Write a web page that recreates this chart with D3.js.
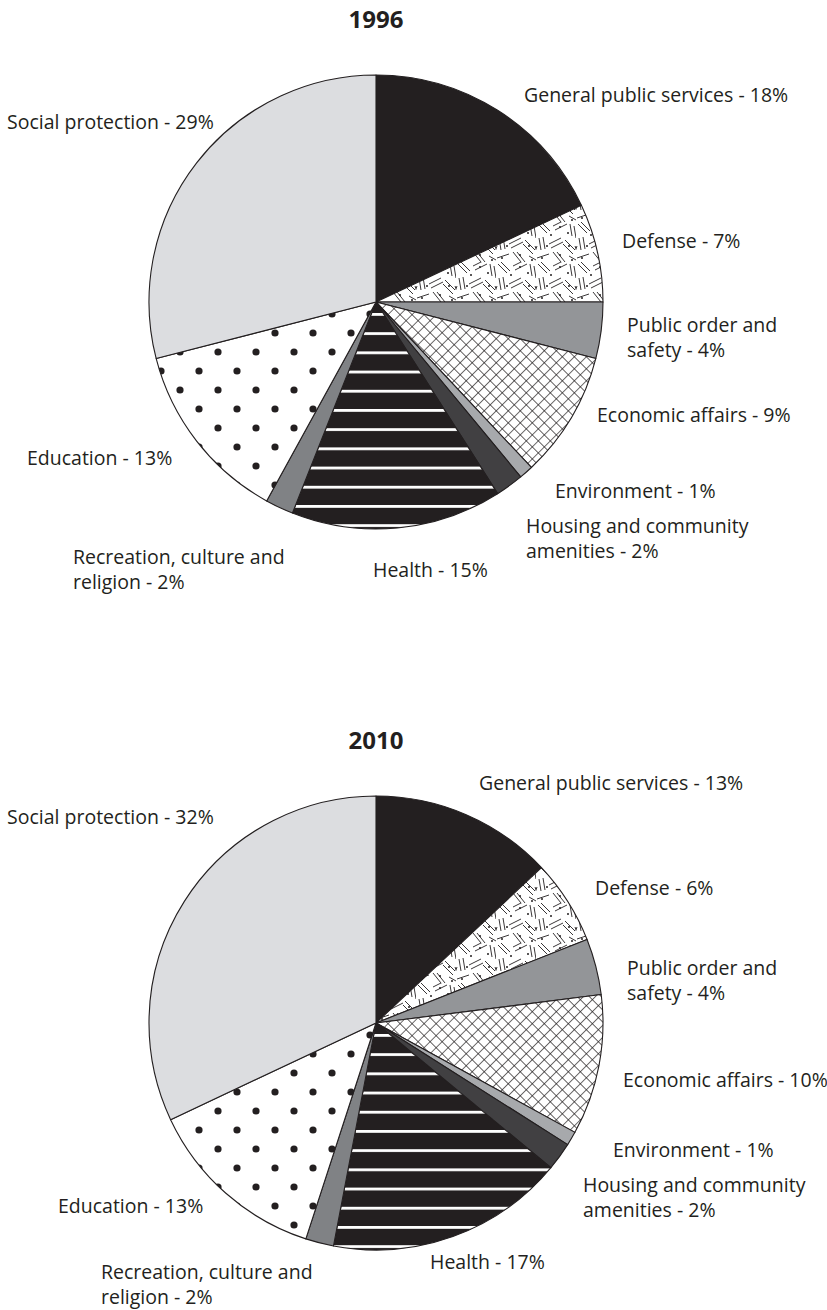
<!DOCTYPE html>
<html>
<head>
<meta charset="utf-8">
<script src="https://cdn.jsdelivr.net/npm/d3@7"></script>
<style>
  body { margin: 0; background: #fff; }
  text { font-family: "Open Sans", sans-serif; fill: #231f20; }
</style>
</head>
<body>
<div id="chart"></div>
<script>
// spending categories, clockwise from 12 o'clock
var categories = [
  ["General public services"],
  ["Defense"],
  ["Public order and", "safety"],
  ["Economic affairs"],
  ["Environment"],
  ["Housing and community", "amenities"],
  ["Health"],
  ["Recreation, culture and", "religion"],
  ["Education"],
  ["Social protection"]
];
var years = ["1996", "2010"];
var values1996 = [18, 7, 4, 9, 1, 2, 15, 2, 13, 29];
var values2010 = [13, 6, 4, 10, 1, 2, 17, 2, 13, 32];

var fills = ["#231f20", "url(#defense)", "#939598", "url(#xhatch)", "#a7a9ac",
             "#414042", "url(#stripes)", "#808285", "url(#dots)", "#dcdde0"];

// label anchors (left x, first baseline) per pie, page coords
var labelPos = [
  [[524, 102], [622, 248], [627, 332], [597, 422], [555, 498],
   [526, 533], [373, 577], [73, 564], [27, 465], [7, 129]],
  [[479, 790], [595, 895], [627, 975], [623, 1087], [613, 1157],
   [583, 1192], [430, 1269], [101, 1279], [58, 1213], [7, 824]]
];

var W = 827, H = 1310, radius = 227,
    centers = [[376, 302], [376, 1023]],
    titleY = [28, 749];

var svg = d3.select("#chart").append("svg")
    .attr("width", W)
    .attr("height", H);

var defs = svg.append("defs");

// crosshatch
var xh = defs.append("pattern")
    .attr("id", "xhatch")
    .attr("patternUnits", "userSpaceOnUse")
    .attr("width", 8.5).attr("height", 8.5)
    .attr("patternTransform", "rotate(45)");
xh.append("rect").attr("width", 8.5).attr("height", 8.5).attr("fill", "#fff");
xh.append("path").attr("d", "M0,0H8.5M0,0V8.5")
    .attr("stroke", "#231f20").attr("stroke-width", 1.3);

// white stripes on black
var st = defs.append("pattern")
    .attr("id", "stripes")
    .attr("patternUnits", "userSpaceOnUse")
    .attr("width", 20).attr("height", 19.2)
    .attr("y", 11);
st.append("rect").attr("width", 20).attr("height", 19.2).attr("fill", "#231f20");
st.append("rect").attr("width", 20).attr("height", 2.8).attr("fill", "#fff");

// dots
var dt = defs.append("pattern")
    .attr("id", "dots")
    .attr("patternUnits", "userSpaceOnUse")
    .attr("width", 38).attr("height", 38);
dt.append("rect").attr("width", 38).attr("height", 38).attr("fill", "#fff");
dt.selectAll("circle").data([[13, 31], [32, 12]]).enter().append("circle")
    .attr("cx", function(d) { return d[0]; })
    .attr("cy", function(d) { return d[1]; })
    .attr("r", 3.6)
    .attr("fill", "#231f20");

// scattered dashes for defense
var df = defs.append("pattern")
    .attr("id", "defense")
    .attr("patternUnits", "userSpaceOnUse")
    .attr("width", 40).attr("height", 40);
df.append("rect").attr("width", 40).attr("height", 40).attr("fill", "#fff");
df.append("path")
    .attr("d", "M2,2L11,11 M5,0L14,9 M17,4L29,-2 M19,8L31,2 M34,2L36,14 M38,4L40,16" +
               "M3,16L5,28 M7,15L9,27 M13,22L25,16 M15,26L27,20 M29,18L39,28 M27,22L37,32" +
               "M1,36L13,32 M17,30L25,40 M21,30L29,40 M33,34L40,38 M-1,30L1,24 M39,24L41,30")
    .attr("stroke", "#231f20").attr("stroke-width", 0.9)
    .attr("fill", "none");
df.selectAll("circle").data([[15, 13], [32, 11], [11, 24], [24, 33], [36, 38], [6, 36], [24, 5], [33, 24]])
  .enter().append("circle")
    .attr("cx", function(d) { return d[0]; })
    .attr("cy", function(d) { return d[1]; })
    .attr("r", 1)
    .attr("fill", "#231f20");

var pie = d3.pie().sort(null).value(function(d) { return d; });
var arc = d3.arc().innerRadius(0).outerRadius(radius);

[values1996, values2010].forEach(function(vals, k) {
    var g = svg.append("g")
        .attr("transform", "translate(" + centers[k][0] + "," + centers[k][1] + ")");

    g.selectAll("path")
        .data(pie(vals))
        .enter().append("path")
        .attr("d", arc)
        .attr("fill", function(d, i) { return fills[i]; })
        .attr("stroke", "#231f20")
        .attr("stroke-width", 1.1)
        .attr("stroke-linejoin", "round");

    svg.append("text")
        .attr("x", centers[k][0])
        .attr("y", titleY[k])
        .attr("text-anchor", "middle")
        .style("font-weight", "bold")
        .style("font-size", "24px")
        .text(years[k]);

    var lab = svg.append("g").selectAll("text")
        .data(categories)
        .enter().append("text")
        .attr("x", function(d, i) { return labelPos[k][i][0]; })
        .attr("y", function(d, i) { return labelPos[k][i][1]; })
        .style("font-size", "19.5px");

    lab.each(function(lines, i) {
        var t = d3.select(this);
        lines.forEach(function(line, j) {
            var s = line + (j === lines.length - 1 ? " - " + vals[i] + "%" : "");
            t.append("tspan")
                .attr("x", labelPos[k][i][0])
                .attr("dy", j === 0 ? 0 : 25)
                .text(s);
        });
    });
});
</script>
</body>
</html>
